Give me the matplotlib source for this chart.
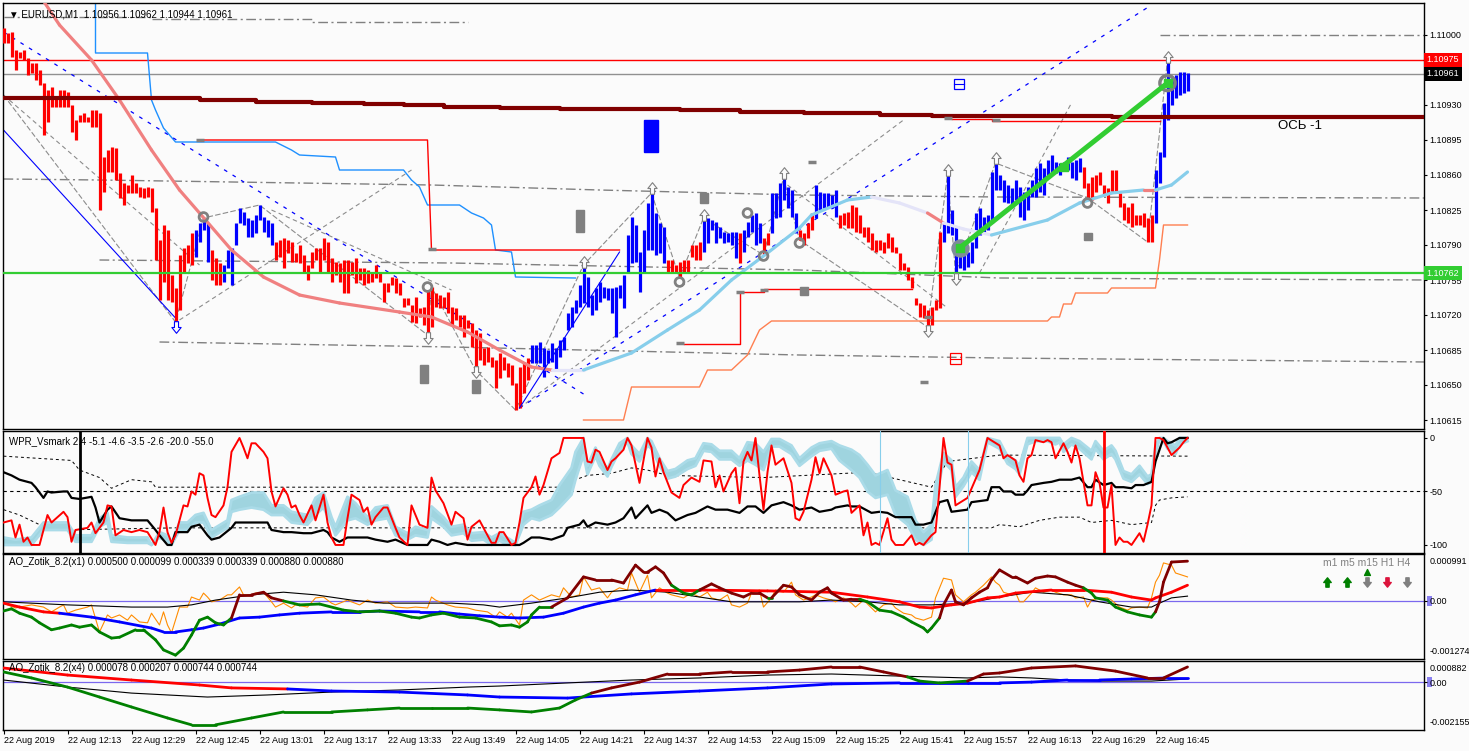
import numpy as np
import matplotlib
matplotlib.use("Agg")
import matplotlib.pyplot as plt
import matplotlib.transforms as mtransforms
from matplotlib.collections import LineCollection
from matplotlib.patches import Rectangle
from matplotlib.path import Path

plt.rcParams['font.family'] = ['Liberation Sans', 'DejaVu Sans']

# ---------------- data: EURUSD M1, 22 Aug 2019, bars from 11:57 ----------------
time_labels = ["22 Aug 2019", "22 Aug 12:13", "22 Aug 12:29", "22 Aug 12:45", "22 Aug 13:01",
               "22 Aug 13:17", "22 Aug 13:33", "22 Aug 13:49", "22 Aug 14:05", "22 Aug 14:21",
               "22 Aug 14:37", "22 Aug 14:53", "22 Aug 15:09", "22 Aug 15:25", "22 Aug 15:41",
               "22 Aug 15:57", "22 Aug 16:13", "22 Aug 16:29", "22 Aug 16:45"]
time_label_bars = [0, 16, 32, 48, 64, 80, 96, 112, 128, 144, 160, 176, 192, 208, 224, 240, 256, 272, 288]

highs = [1.11007, 1.11002, 1.11003, 1.10985, 1.10983, 1.10985, 1.10977, 1.10972, 1.10972, 1.10965,
         1.10952, 1.10945, 1.10948, 1.10938, 1.10945, 1.10945, 1.10943, 1.10930, 1.10915, 1.10920,
         1.10922, 1.10918, 1.10925, 1.10925, 1.10922, 1.10878, 1.10885, 1.10888, 1.10887, 1.10862,
         1.10852, 1.10850, 1.10860, 1.10852, 1.10848, 1.10847, 1.10848, 1.10847, 1.10827, 1.10795,
         1.10810, 1.10805, 1.10760, 1.10747, 1.10780, 1.10787, 1.10790, 1.10802, 1.10805, 1.10812,
         1.10817, 1.10812, 1.10785, 1.10777, 1.10772, 1.10770, 1.10785, 1.10787, 1.10812, 1.10827,
         1.10823, 1.10817, 1.10815, 1.10820, 1.10830, 1.10818, 1.10815, 1.10812, 1.10793, 1.10795,
         1.10797, 1.10795, 1.10793, 1.10782, 1.10790, 1.10780, 1.10770, 1.10783, 1.10787, 1.10787,
         1.10797, 1.10793, 1.10777, 1.10773, 1.10772, 1.10775, 1.10775, 1.10773, 1.10777, 1.10767,
         1.10767, 1.10765, 1.10763, 1.10770, 1.10763, 1.10752, 1.10752, 1.10758, 1.10757, 1.10752,
         1.10737, 1.10737, 1.10730, 1.10738, 1.10727, 1.10728, 1.10745, 1.10748, 1.10742, 1.10740,
         1.10738, 1.10743, 1.10728, 1.10727, 1.10720, 1.10720, 1.10715, 1.10712, 1.10705, 1.10702,
         1.10687, 1.10688, 1.10678, 1.10675, 1.10682, 1.10678, 1.10672, 1.10670, 1.10652, 1.10668,
         1.10673, 1.10677, 1.10690, 1.10690, 1.10693, 1.10687, 1.10685, 1.10692, 1.10687, 1.10695,
         1.10698, 1.10722, 1.10728, 1.10735, 1.10750, 1.10770, 1.10758, 1.10740, 1.10747, 1.10753,
         1.10748, 1.10747, 1.10747, 1.10748, 1.10750, 1.10760, 1.10800, 1.10818, 1.10810, 1.10783,
         1.10805, 1.10832, 1.10842, 1.10822, 1.10812, 1.10808, 1.10775, 1.10775, 1.10770, 1.10773,
         1.10775, 1.10775, 1.10790, 1.10790, 1.10793, 1.10817, 1.10817, 1.10815, 1.10813, 1.10808,
         1.10803, 1.10802, 1.10803, 1.10803, 1.10802, 1.10805, 1.10813, 1.10820, 1.10822, 1.10812,
         1.10797, 1.10802, 1.10842, 1.10842, 1.10852, 1.10857, 1.10848, 1.10845, 1.10822, 1.10805,
         1.10802, 1.10812, 1.10822, 1.10850, 1.10843, 1.10842, 1.10842, 1.10840, 1.10845, 1.10820,
         1.10822, 1.10823, 1.10830, 1.10828, 1.10820, 1.10808, 1.10808, 1.10802, 1.10795, 1.10795,
         1.10793, 1.10802, 1.10798, 1.10788, 1.10782, 1.10772, 1.10768, 1.10758, 1.10737, 1.10732,
         1.10730, 1.10725, 1.10728, 1.10735, 1.10803, 1.10813, 1.10860, 1.10825, 1.10808, 1.10787,
         1.10785, 1.10783, 1.10793, 1.10822, 1.10827, 1.10818, 1.10820, 1.10863, 1.10872, 1.10860,
         1.10855, 1.10850, 1.10847, 1.10855, 1.10848, 1.10843, 1.10848, 1.10855, 1.10867, 1.10872,
         1.10867, 1.10875, 1.10880, 1.10873, 1.10872, 1.10873, 1.10878, 1.10873, 1.10875, 1.10877,
         1.10868, 1.10852, 1.10858, 1.10860, 1.10863, 1.10850, 1.10847, 1.10865, 1.10865, 1.10842,
         1.10832, 1.10828, 1.10832, 1.10820, 1.10820, 1.10822, 1.10817, 1.10820, 1.10865, 1.10883,
         1.10932, 1.10975, 1.10957, 1.10960, 1.10963, 1.10963, 1.10962]

lows = [1.10992, 1.10992, 1.10978, 1.10965, 1.10977, 1.10975, 1.10960, 1.10962, 1.10955, 1.10950,
        1.10900, 1.10913, 1.10928, 1.10928, 1.10928, 1.10928, 1.10928, 1.10903, 1.10895, 1.10913,
        1.10913, 1.10913, 1.10908, 1.10908, 1.10825, 1.10843, 1.10863, 1.10863, 1.10855, 1.10837,
        1.10830, 1.10842, 1.10842, 1.10842, 1.10838, 1.10837, 1.10838, 1.10823, 1.10775, 1.10735,
        1.10753, 1.10735, 1.10733, 1.10713, 1.10725, 1.10763, 1.10772, 1.10770, 1.10778, 1.10793,
        1.10805, 1.10773, 1.10755, 1.10750, 1.10750, 1.10753, 1.10767, 1.10750, 1.10790, 1.10812,
        1.10810, 1.10798, 1.10798, 1.10802, 1.10815, 1.10803, 1.10798, 1.10790, 1.10775, 1.10778,
        1.10767, 1.10782, 1.10773, 1.10773, 1.10772, 1.10763, 1.10755, 1.10767, 1.10775, 1.10762,
        1.10775, 1.10762, 1.10753, 1.10760, 1.10753, 1.10742, 1.10742, 1.10760, 1.10752, 1.10755,
        1.10750, 1.10752, 1.10753, 1.10757, 1.10753, 1.10733, 1.10743, 1.10750, 1.10742, 1.10740,
        1.10728, 1.10730, 1.10713, 1.10712, 1.10718, 1.10710, 1.10700, 1.10708, 1.10728, 1.10727,
        1.10727, 1.10722, 1.10710, 1.10715, 1.10708, 1.10698, 1.10707, 1.10688, 1.10665, 1.10675,
        1.10670, 1.10673, 1.10668, 1.10647, 1.10657, 1.10665, 1.10658, 1.10650, 1.10625, 1.10627,
        1.10642, 1.10655, 1.10672, 1.10672, 1.10672, 1.10658, 1.10672, 1.10673, 1.10665, 1.10678,
        1.10685, 1.10705, 1.10708, 1.10722, 1.10728, 1.10732, 1.10728, 1.10720, 1.10725, 1.10733,
        1.10737, 1.10735, 1.10722, 1.10698, 1.10737, 1.10727, 1.10762, 1.10772, 1.10773, 1.10743,
        1.10762, 1.10785, 1.10785, 1.10780, 1.10782, 1.10772, 1.10762, 1.10762, 1.10762, 1.10757,
        1.10762, 1.10763, 1.10778, 1.10775, 1.10775, 1.10783, 1.10792, 1.10805, 1.10792, 1.10797,
        1.10792, 1.10793, 1.10790, 1.10777, 1.10772, 1.10783, 1.10798, 1.10803, 1.10790, 1.10792,
        1.10780, 1.10790, 1.10802, 1.10817, 1.10818, 1.10835, 1.10827, 1.10818, 1.10802, 1.10795,
        1.10790, 1.10797, 1.10805, 1.10817, 1.10825, 1.10827, 1.10828, 1.10827, 1.10818, 1.10807,
        1.10810, 1.10807, 1.10807, 1.10803, 1.10802, 1.10798, 1.10793, 1.10785, 1.10783, 1.10785,
        1.10782, 1.10787, 1.10783, 1.10782, 1.10765, 1.10765, 1.10755, 1.10747, 1.10730, 1.10718,
        1.10717, 1.10708, 1.10710, 1.10725, 1.10727, 1.10793, 1.10802, 1.10800, 1.10762, 1.10767,
        1.10765, 1.10768, 1.10772, 1.10787, 1.10800, 1.10803, 1.10805, 1.10812, 1.10845, 1.10845,
        1.10833, 1.10832, 1.10830, 1.10835, 1.10818, 1.10815, 1.10825, 1.10838, 1.10838, 1.10843,
        1.10840, 1.10857, 1.10860, 1.10862, 1.10860, 1.10867, 1.10865, 1.10857, 1.10855, 1.10863,
        1.10847, 1.10837, 1.10835, 1.10843, 1.10850, 1.10840, 1.10832, 1.10842, 1.10843, 1.10828,
        1.10815, 1.10812, 1.10808, 1.10810, 1.10810, 1.10808, 1.10793, 1.10793, 1.10812, 1.10852,
        1.10878, 1.10915, 1.10930, 1.10937, 1.10940, 1.10942, 1.10944]

# bar index ranges painted blue (trend up); all others red
up_runs = [(48, 51), (55, 67), (132, 165), (175, 183), (185, 189), (192, 198), (203, 208), (235, 269), (288, 296)]

# main chart indicator lines: (bar, price)
axis_line = [(-1, 1.109370), (49, 1.109350), (63, 1.109333), (77, 1.109323), (90, 1.109310), (100, 1.109300),
             (110, 1.109283), (124, 1.109275), (139, 1.109265), (154, 1.109255), (169, 1.109245),
             (184, 1.109235), (194, 1.109230), (200, 1.109215), (219, 1.109200), (232, 1.109190),
             (247, 1.109185), (277, 1.109177), (356, 1.109177)]
ma_line = [(9, 1.11040), (14, 1.11010), (22, 1.10975), (29, 1.10935), (37, 1.10885), (44, 1.10845),
           (49, 1.10822), (57, 1.10785), (65, 1.10758), (74, 1.10740), (84, 1.10732), (99, 1.10723),
           (107, 1.10718), (116, 1.10703), (124, 1.10685), (132, 1.10668), (137, 1.10665), (145, 1.10665),
           (157, 1.10682), (166, 1.10705), (174, 1.10725), (182, 1.10755), (191, 1.10782), (199, 1.10807),
           (202, 1.10820), (211, 1.10835), (217, 1.10838), (224, 1.10832), (231, 1.10822), (235, 1.10812),
           (240, 1.10806), (247, 1.10800), (261, 1.10815), (269, 1.10832), (277, 1.10842), (285, 1.10845),
           (288, 1.10845), (292, 1.10850), (296, 1.10863)]
ma_spans = [(0, 137, '#f08080'), (137, 145, '#e4e4f8'), (145, 217, '#87ceeb'), (217, 231, '#e4e4f8'),
            (231, 235, '#f08080'), (235, 247, '#e4e4f8'), (247, 285, '#87ceeb'), (285, 288, '#f08080'),
            (288, 296, '#87ceeb')]
blue_stop = [(23, 1.11040), (23, 1.10982), (36, 1.10982), (37, 1.10935), (38, 1.10925), (40, 1.10907),
             (43, 1.10893), (68, 1.10893), (72, 1.10885), (74, 1.10880), (83, 1.10878), (84, 1.10865),
             (100, 1.10865), (102, 1.10855), (104, 1.10848), (106, 1.10830), (114, 1.10830), (117, 1.10822),
             (120, 1.10817), (122, 1.10810), (123, 1.10785), (127, 1.10783), (128, 1.10758), (143, 1.10757)]
coral_stop = [(145, 1.10615), (155, 1.10615), (157, 1.10648), (174, 1.10648), (176, 1.10665), (182, 1.10665),
              (186, 1.10680), (189, 1.10705), (192, 1.10714), (261, 1.10714), (262, 1.10718), (264, 1.10718),
              (265, 1.10731), (267, 1.10731), (268, 1.10742), (276, 1.10742), (277, 1.10747), (288, 1.10747),
              (289, 1.10775), (290, 1.10810), (296, 1.10810)]
red_levels = [[(49, 1.10895), (106, 1.10895), (107, 1.10785), (154, 1.10785)],
              [(170, 1.10691), (184, 1.10691), (184, 1.10743), (190, 1.10743), (190, 1.10746), (227, 1.10746)],
              [(237, 1.10916), (247, 1.10916), (247, 1.10914), (289, 1.10914)]]
gray_levels = [[(0, 1.11018), (37, 1.11018), (37, 1.11016), (77, 1.11016), (77, 1.11013), (116, 1.11013)],
               [(0, 1.10856), (24, 1.10855), (107, 1.10850), (149, 1.10845), (199, 1.10840), (249, 1.10838), (356, 1.10837)],
               [(24, 1.10775), (112, 1.10772), (199, 1.10765), (249, 1.10757), (356, 1.10755)],
               [(39, 1.10693), (112, 1.10688), (199, 1.10680), (249, 1.10677), (356, 1.10673)],
               [(289, 1.11000), (356, 1.11000)]]
zigzag = [(0, 1.10940), (43, 1.10713), (50, 1.10817), (64, 1.10830), (106, 1.10700), (107, 1.10748),
          (118, 1.10665), (128, 1.10625), (145, 1.10770), (162, 1.10842), (169, 1.10757), (175, 1.10817),
          (190, 1.10780), (195, 1.10857), (199, 1.10795), (231, 1.10708), (236, 1.10860), (238, 1.10762),
          (248, 1.10872), (271, 1.10837), (286, 1.10793), (291, 1.10975)]
gray_diag = [[(0, 1.10940), (49, 1.10770)], [(44, 1.10715), (102, 1.10865)], [(67, 1.10825), (112, 1.10745)],
             [(129, 1.10627), (225, 1.10915)], [(244, 1.10762), (267, 1.10932)], [(196, 1.10850), (236, 1.10727)]]
blue_channel = [(0, 1.10905), (43, 1.10717)]
blue_dash_down = [(0, 1.11003), (145, 1.10641)]
blue_dash_up = [(129, 1.10627), (287, 1.11030)]
blue_leg = [(129, 1.10627), (154, 1.10783)]
green_trend = [(239, 1.10787), (265, 1.10868), (291, 1.10952)]
up_marks = [(145, 1.10773), (162, 1.10847), (175, 1.10820), (195, 1.10862), (236, 1.10865), (248, 1.10877), (291, 1.10978)]
down_marks = [(106, 1.10697), (118, 1.10663), (231, 1.10704), (238, 1.10756)]
ring_marks = [(50, 1.10818), (106, 1.10748), (169, 1.10753), (186, 1.10822), (190, 1.10779), (199, 1.10792), (271, 1.10832)]
gray_blocks = [(143, 145, 1.10803, 1.10825), (104, 106, 1.10652, 1.10670), (117, 119, 1.10642, 1.10655),
               (174, 176, 1.10832, 1.10842), (199, 201, 1.10740, 1.10748), (270, 272, 1.10795, 1.10802)]
gray_ticks = [(49, 1.10895), (107, 1.10786), (169, 1.10692), (184, 1.10743), (190, 1.10745), (202, 1.10873),
              (231, 1.10718), (230, 1.10653), (236, 1.10917), (248, 1.10915)]
price_ticks = [1.11000, 1.10965, 1.10930, 1.10895, 1.10860, 1.10825, 1.10790, 1.10755, 1.10720, 1.10685, 1.10650, 1.10615]
high_mark, bid, level_green = 1.10975, 1.10961, 1.10762

# WPR panel: (bar, value)
wpr_fast = [(0, -79), (2, -77), (3, -93), (4, -81), (5, -97), (6, -93), (7, -100), (9, -100), (11, -72), (12, -79),
            (15, -69), (16, -74), (17, -97), (18, -86), (21, -84), (22, -79), (23, -89), (25, -79), (26, -63), (27, -64),
            (28, -91), (30, -86), (32, -88), (34, -86), (36, -88), (38, -100), (39, -88), (40, -65), (41, -88), (42, -98),
            (43, -91), (45, -63), (46, -64), (47, -50), (48, -53), (49, -33), (50, -35), (51, -56), (52, -72), (53, -74),
            (55, -63), (56, -46), (57, -13), (59, 0), (60, -9), (61, -19), (62, -5), (63, -5), (65, -13), (66, -19),
            (67, -50), (68, -64), (70, -47), (71, -53), (72, -65), (73, -63), (74, -72), (75, -79), (77, -63), (78, -77),
            (80, -53), (81, -79), (82, -93), (83, -100), (85, -100), (86, -75), (87, -53), (89, -58), (90, -69), (91, -65),
            (92, -81), (93, -74), (95, -65), (96, -65), (98, -84), (99, -93), (101, -100), (102, -63), (104, -81), (106, -84),
            (107, -37), (108, -49), (110, -61), (112, -81), (113, -69), (115, -75), (116, -95), (117, -83), (119, -77), (120, -84),
            (122, -98), (123, -98), (124, -88), (125, -88), (127, -100), (128, -98), (129, -79), (130, -56), (132, -46), (133, -36),
            (134, -53), (135, -44), (137, -19), (139, -14), (140, 0), (142, 0), (143, 0), (145, 0), (146, -22), (147, -23),
            (148, -11), (149, -13), (151, -30), (152, -22), (153, -19), (155, -11), (156, 0), (157, -7), (159, -42), (161, 0),
            (162, -9), (163, -36), (164, -19), (165, -32), (167, -51), (169, -56), (170, -44), (172, -37), (174, -41), (175, -21),
            (177, -22), (178, -46), (179, -35), (180, -50), (182, -33), (183, -28), (184, -61), (185, -22), (186, -13), (187, -21),
            (188, 0), (189, -35), (190, -67), (191, -32), (192, -7), (193, -25), (195, -19), (197, -42), (198, -75), (199, -77),
            (200, -69), (202, -39), (203, -18), (204, -33), (205, -19), (207, -35), (208, -53), (210, -50), (211, -49), (212, -70),
            (214, -63), (215, -91), (216, -79), (217, -100), (218, -98), (219, -100), (221, -75), (222, -95), (223, -100), (224, -100),
            (225, -100), (227, -91), (228, -100), (229, -98), (230, -100), (232, -91), (233, -88), (234, -47), (235, 0), (236, -23),
            (237, -25), (238, -63), (241, -56), (244, -30), (246, 0), (249, -7), (250, -19), (251, -16), (253, -21), (254, -35),
            (255, -41), (256, -19), (257, -16), (258, -2), (260, -4), (261, -2), (262, -4), (263, -19), (265, -5), (266, -13),
            (267, -23), (268, -7), (269, -19), (271, -63), (272, -63), (273, -32), (274, -42), (275, -65), (276, -65), (277, -44),
            (278, -100), (279, -93), (280, -97), (281, -97), (282, -100), (284, -89), (285, -97), (286, -81), (287, -63), (288, 0),
            (289, 0), (290, -2), (292, -16), (294, -9), (295, -4), (296, 0)]
wpr_slow = [(0, -32), (2, -35), (4, -39), (7, -42), (8, -46), (10, -56), (11, -50), (12, -51), (15, -50), (16, -50),
            (17, -56), (19, -57), (22, -55), (23, -65), (24, -79), (26, -67), (27, -64), (29, -75), (32, -77), (36, -77),
            (38, -86), (39, -91), (41, -100), (42, -100), (43, -88), (46, -88), (47, -83), (49, -81), (51, -91), (52, -95),
            (54, -93), (57, -84), (58, -79), (61, -79), (62, -79), (66, -79), (67, -86), (70, -88), (72, -88), (75, -89),
            (77, -89), (80, -86), (81, -88), (82, -93), (84, -97), (86, -93), (88, -93), (91, -93), (93, -95), (96, -97),
            (98, -95), (101, -100), (103, -100), (106, -100), (107, -95), (109, -97), (111, -100), (113, -98), (116, -100), (118, -100),
            (121, -100), (124, -100), (127, -100), (129, -100), (130, -98), (132, -93), (134, -93), (137, -95), (140, -91), (141, -84),
            (144, -81), (145, -77), (146, -83), (148, -79), (151, -81), (153, -79), (155, -75), (157, -65), (158, -75), (161, -63),
            (162, -70), (164, -67), (166, -70), (168, -77), (171, -72), (173, -70), (176, -64), (178, -67), (181, -67), (184, -70),
            (186, -64), (188, -64), (190, -70), (192, -63), (195, -60), (197, -63), (199, -67), (202, -65), (204, -69), (207, -67),
            (208, -65), (211, -63), (212, -64), (214, -64), (217, -70), (219, -69), (221, -70), (223, -74), (227, -74), (228, -81),
            (230, -81), (232, -79), (234, -60), (236, -58), (237, -69), (241, -67), (242, -60), (246, -58), (247, -46), (249, -46),
            (250, -50), (252, -50), (253, -53), (255, -53), (256, -49), (257, -44), (260, -42), (262, -41), (264, -39), (267, -39),
            (269, -37), (271, -46), (272, -46), (273, -39), (275, -44), (277, -42), (278, -46), (280, -46), (282, -47), (283, -44),
            (285, -44), (287, -41), (288, -22), (290, 0), (291, -5), (292, -4), (294, 0), (296, 0)]
# smoothed WPR band: (bar, edge a, edge b)
wpr_band = [(0, -93, -100), (3, -95, -100), (7, -93, -100), (10, -79, -86), (16, -79, -86), (18, -91, -97), (22, -91, -97),
            (24, -75, -83), (26, -70, -79), (27, -91, -97), (31, -93, -98), (36, -93, -98), (37, -100, -100), (39, -88, -93),
            (41, -91, -97), (42, -98, -100), (44, -79, -86), (46, -79, -86), (48, -72, -79), (50, -70, -79), (52, -86, -93),
            (56, -77, -84), (57, -58, -69), (59, -55, -67), (62, -51, -65), (65, -51, -67), (67, -63, -72), (70, -63, -72),
            (72, -69, -79), (76, -72, -81), (78, -56, -72), (80, -51, -65), (82, -74, -81), (83, -83, -91), (86, -55, -77),
            (88, -61, -75), (91, -74, -81), (93, -65, -77), (96, -63, -75), (98, -83, -91), (101, -89, -95), (103, -83, -91),
            (106, -86, -93), (107, -64, -75), (110, -74, -83), (112, -83, -91), (115, -81, -89), (117, -89, -96), (120, -88, -95),
            (122, -93, -100), (124, -89, -96), (125, -91, -98), (128, -98, -100), (130, -69, -81), (132, -67, -75), (134, -63, -77),
            (137, -58, -72), (139, -44, -65), (142, -28, -53), (143, -13, -39), (145, 0, -16), (146, -26, -34), (148, -9, -17),
            (149, -19, -26), (151, -29, -36), (152, -20, -27), (154, -5, -12), (156, 0, -4), (157, -7, -15), (159, -15, -22),
            (161, 0, -7), (162, -3, -10), (164, -19, -26), (166, -31, -38), (168, -29, -36), (171, -21, -29), (173, -19, -26),
            (175, -5, -12), (177, -6, -13), (179, -12, -20), (182, -12, -20), (184, -19, -26), (186, -4, -21), (188, -5, -25),
            (190, -13, -30), (192, -1, -8), (194, -1, -8), (197, -7, -15), (199, -19, -26), (202, -9, -17), (204, -5, -12),
            (207, -3, -10), (209, -7, -21), (212, -11, -30), (214, -16, -37), (216, -25, -50), (218, -35, -56), (221, -30, -53),
            (223, -49, -72), (226, -55, -81), (228, -77, -95), (230, -88, -100), (232, -81, -95), (233, -44, -58), (235, -14, -22),
            (237, -21, -30), (238, -46, -55), (240, -37, -45), (242, -22, -32), (244, -30, -39), (246, 0, -4), (249, -3, -10),
            (251, -17, -24), (253, -21, -29), (254, -26, -34), (256, 0, -6), (258, 0, -3), (261, 0, -3), (263, 0, -6),
            (264, 0, -4), (265, -6, -13), (267, 0, -6), (269, -3, -10), (272, -12, -20), (273, -3, -10), (275, -12, -20),
            (277, -7, -15), (278, -12, -20), (280, -31, -38), (282, -34, -41), (284, -26, -34), (286, -36, -43), (287, -34, -41),
            (288, -7, -15), (289, 0, -1), (290, 0, -3), (291, -3, -10), (293, -7, -15), (294, 0, -6), (296, 0, -3)]
wpr_upper = [(0, -17), (17, -21), (19, -30), (24, -37), (27, -47), (32, -39), (37, -41), (38, -46), (142, -46), (143, -39),
             (146, -35), (152, -33), (157, -28), (161, -30), (166, -35), (190, -37), (216, -32), (232, -46), (236, -22),
             (249, -16), (296, -17)]
wpr_lower = [(0, -67), (4, -72), (9, -81), (14, -86), (43, -84), (247, -84), (249, -81), (254, -83), (259, -77),
             (264, -74), (269, -74), (272, -79), (277, -77), (282, -81), (287, -79), (288, -63), (289, -58), (292, -56), (296, -55)]
wpr_vlines = [(19, 'black', 2.0), (275, 'red', 2.0), (219, '#87ceeb', 0.8), (241, '#87ceeb', 0.8)]

# AO_Zotik panels, values in points (1e-5)
ao1_slow = [(0, -6), (4, -15), (10, -26), (14, -29), (22, -38), (29, -49), (37, -63), (40, -72), (43, -72), (47, -67),
            (50, -63), (54, -54), (59, -40), (64, -38), (69, -33), (74, -29), (82, -26), (89, -26), (94, -24), (104, -26),
            (109, -26), (114, -31), (119, -35), (124, -38), (129, -40), (135, -38), (140, -29), (145, -15), (149, -6), (153, 1),
            (158, 13), (163, 24), (174, 24), (191, 22), (207, 19), (216, 8), (224, -3), (229, -15), (232, -17), (237, -10),
            (241, -6), (246, 6), (249, 8), (253, 17), (262, 24), (270, 24), (277, 19), (282, 8), (287, 1), (288, 6),
            (292, 19), (296, 35)]
ao1_fast = [(0, -24), (2, -19), (4, -29), (7, -38), (9, -51), (12, -67), (14, -63), (17, -56), (19, -61), (22, -56),
            (24, -72), (27, -86), (29, -84), (33, -67), (35, -67), (38, -90), (40, -113), (43, -125), (45, -109), (47, -79),
            (49, -45), (51, -38), (53, -51), (55, -56), (57, -40), (59, 13), (62, 13), (65, 19), (67, 6), (70, -1),
            (74, -10), (79, -8), (85, -22), (89, -26), (94, -24), (98, -29), (102, -38), (104, -40), (107, -33), (110, -29),
            (114, -38), (118, -40), (122, -49), (124, -58), (127, -56), (129, -61), (131, -49), (132, -33), (134, -15), (137, -15),
            (141, 6), (145, 54), (148, 47), (152, 47), (155, 40), (158, 81), (160, 65), (161, 65), (163, 77), (165, 63),
            (167, 35), (170, 17), (172, 13), (174, 24), (177, 38), (179, 29), (182, 17), (185, 8), (187, 17), (189, 17),
            (191, 6), (192, 6), (195, 35), (197, 31), (199, 13), (202, 1), (204, 19), (206, 29), (207, 17), (210, 1),
            (212, 3), (214, 3), (216, -3), (219, -22), (222, -26), (225, -38), (227, -49), (230, -63), (231, -72), (232, -63),
            (234, -40), (235, -10), (237, 24), (238, -3), (240, -10), (242, 6), (244, 19), (246, 29), (247, 47), (249, 70),
            (252, 54), (253, 54), (256, 40), (258, 51), (261, 56), (263, 54), (266, 42), (268, 35), (270, 29), (272, 17),
            (273, 6), (276, 1), (278, -15), (281, -26), (284, -33), (287, -38), (288, -26), (289, -3), (290, 42), (292, 88),
            (296, 90)]
ao1_raw = [(0, -6), (3, -17), (7, -10), (10, -15), (12, -26), (14, -15), (15, -10), (16, -29), (18, -22), (21, -15),
           (22, -10), (24, -72), (26, -33), (27, -40), (29, -33), (31, -45), (32, -33), (34, -49), (36, -51), (37, -29),
           (39, -56), (40, -26), (41, -56), (42, -74), (44, -15), (46, -15), (47, 8), (49, 1), (50, 17), (51, 8),
           (52, -3), (54, 1), (56, 13), (57, 13), (59, 31), (60, 13), (62, 13), (63, 17), (65, 19), (67, -3),
           (68, -15), (70, -6), (72, -17), (73, -10), (76, -15), (78, 6), (80, 8), (82, -6), (83, -10), (86, 1),
           (87, -3), (89, -10), (91, 1), (93, -6), (96, -3), (98, -15), (101, -17), (103, -15), (106, -17), (107, 8),
           (108, 1), (111, -10), (113, -15), (116, -17), (118, -22), (121, -26), (123, -38), (124, -26), (126, -38), (127, -29),
           (129, -56), (130, 1), (132, 13), (134, 1), (137, 13), (139, 8), (140, 29), (142, 8), (144, 13), (145, 54),
           (147, 24), (149, 29), (151, 6), (152, 19), (154, 29), (156, 24), (157, 63), (159, 19), (161, 58), (162, 6),
           (164, 29), (166, 17), (167, 13), (170, 6), (172, 17), (174, 8), (176, 19), (177, 6), (179, 1), (181, 13),
           (182, -10), (184, -15), (186, -6), (187, 17), (189, 24), (190, -15), (192, 6), (193, 24), (195, 19), (197, 42),
           (198, 13), (200, 1), (202, 8), (203, 13), (205, 6), (207, 1), (208, -3), (210, 6), (212, -6), (213, -15),
           (215, 1), (217, -17), (218, -26), (220, -10), (222, -6), (223, -17), (225, -29), (227, -33), (228, -40), (230, -45),
           (232, -38), (233, 6), (235, 51), (237, 47), (238, 13), (240, -3), (242, 13), (243, 19), (245, 35), (247, 54),
           (248, 42), (249, 35), (250, 19), (252, 13), (253, 19), (254, -3), (255, -3), (257, 17), (258, 29), (260, 19),
           (262, 24), (263, 19), (265, 13), (267, 13), (268, 6), (270, 8), (271, -15), (272, 1), (274, 6), (276, 6),
           (277, 1), (279, -15), (281, -22), (282, -17), (284, -15), (286, -17), (287, 6), (288, 42), (289, 58), (290, 86),
           (292, 81), (293, 63), (296, 54)]
ao1_signal = [(0, -3), (16, -10), (32, -15), (41, -15), (47, -10), (53, 1), (62, 13), (70, 19), (78, 13), (87, 1),
              (95, -6), (103, -6), (112, -6), (120, -10), (124, -15), (132, -6), (141, 6), (149, 19), (157, 24), (166, 19),
              (174, 8), (182, -3), (191, -3), (199, -3), (207, 1), (216, -3), (224, -10), (232, -10), (241, -6), (249, 8),
              (257, 19), (266, 13), (274, -3), (282, -15), (287, -15), (289, -6), (292, 6), (296, 10)]
ao1_blue_runs = [(14, 163)]
ao1_maroon_runs = [(57, 70), (137, 168), (174, 190), (193, 213), (234, 270), (288, 296)]

ao2_slow = [(0, 69), (16, 35), (32, 11), (49, -13), (57, -27), (71, -32), (82, -42), (99, -47), (116, -61), (124, -71),
            (141, -76), (157, -56), (174, -42), (191, -27), (207, -8), (224, -3), (241, -3), (249, -3), (257, 1), (266, 11),
            (274, 11), (282, 16), (291, 21), (296, 21)]
ao2_fast = [(0, 50), (7, 21), (16, -23), (24, -71), (32, -119), (41, -172), (47, -205), (53, -205), (62, -172), (70, -143),
            (82, -143), (91, -133), (99, -124), (107, -124), (116, -124), (124, -133), (132, -143), (139, -124), (143, -85), (147, -52),
            (152, -27), (159, 1), (166, 40), (174, 40), (182, 50), (191, 50), (199, 59), (207, 74), (214, 74), (220, 50),
            (226, 26), (229, 6), (234, -3), (241, 6), (245, 40), (249, 45), (257, 69), (268, 79), (278, 54), (286, 21),
            (290, 21), (296, 74)]
ao2_signal = [(0, 11), (16, -23), (32, -52), (51, -71), (66, -61), (82, -47), (99, -37), (116, -23), (124, -18), (141, -3),
              (157, 11), (174, 21), (191, 35), (207, 40), (224, 30), (241, 21), (249, 26), (257, 21), (266, 11), (274, 6),
              (287, 6), (296, 16)]
ao2_blue_runs = [(71, 296)]
ao2_maroon_runs = [(147, 226), (240, 296)]

# ---------------- figure ----------------
BG = '#fbfbfb'
W, H = 1469, 751
fig = plt.figure(figsize=(W / 100, H / 100), dpi=100, facecolor=BG)


def panel(top, bottom):
    a = fig.add_axes([3 / W, 1 - bottom / H, (1424 - 3) / W, (bottom - top) / H])
    a.set_facecolor(BG)
    a.set_xlim(-0.125, 355.125)
    for s in a.spines.values():
        s.set_linewidth(1.0)
        s.set_color('black')
    a.tick_params(axis='x', bottom=False, labelbottom=False)
    a.tick_params(axis='y', left=False, labelleft=False, right=True, labelright=True,
                  length=2.5, width=0.8, labelsize=6.5, pad=1.5, direction='out')
    return a


ax = panel(3, 429)
axw = panel(431, 553)
ax1 = panel(554, 659)
ax2 = panel(661, 730)

ax.set_ylim(1.10606, 1.11032)
axw.set_ylim(-107.5, 6.5)
ax1.set_ylim(-133.8, 106.4)
ax2.set_ylim(-229.9, 102.7)


def xy(pts):
    return [p[0] for p in pts], [p[1] for p in pts]


def span_line(a, pts, spans, default, lw, z):
    t, v = xy(pts)
    segs, cols = [], []
    for k in range(len(t) - 1):
        segs.append([(t[k], v[k]), (t[k + 1], v[k + 1])])
        m = (t[k] + t[k + 1]) / 2
        c = default
        for s in spans:
            if s[0] <= m <= s[1]:
                c = s[2]
                break
        cols.append(c)
    a.add_collection(LineCollection(segs, colors=cols, linewidths=lw, zorder=z, capstyle='round'))


def arrow_path(up=True):
    pts = [(-0.35, -1), (0.35, -1), (0.35, 0), (0.8, 0), (0, 1), (-0.8, 0), (-0.35, 0), (-0.35, -1)]
    if not up:
        pts = [(x, -y) for x, y in pts]
    return Path(pts, [Path.MOVETO] + [Path.LINETO] * 6 + [Path.CLOSEPOLY])


UP, DOWN = arrow_path(True), arrow_path(False)
dashdot = (0, (7, 2.5, 1.5, 2.5))

# ---- main chart ----
ax.set_yticks(price_ticks)
# the 1.10965 label sits under the bid box, so only its tick mark shows
ax.set_yticklabels(['' if abs(p - bid) < 0.00006 else f"{p:.5f}" for p in price_ticks])

for lv in gray_levels:
    t, v = xy(lv)
    ax.plot(t, v, color='#808080', lw=1.0, ls=dashdot, zorder=1)
for d in gray_diag:
    t, v = xy(d)
    ax.plot(t, v, color='#8c8c8c', lw=0.8, ls=(0, (4, 3)), zorder=1)
t, v = xy(zigzag)
ax.plot(t, v, color='#8c8c8c', lw=0.8, ls=(0, (5, 2)), zorder=2)

ax.axhline(high_mark, color='red', lw=1.0, zorder=1)
ax.axhline(bid, color='#909090', lw=1.0, zorder=1)
ax.axhline(level_green, color='#32cd32', lw=1.6, zorder=6)

t, v = xy(blue_stop)
ax.plot(t, v, color='#1e90ff', lw=1.0, zorder=2)
t, v = xy(coral_stop)
ax.plot(t, v, color='#ff7f50', lw=1.0, zorder=2)
for rl in red_levels:
    t, v = xy(rl)
    ax.plot(t, v, color='red', lw=1.0, zorder=2)

t, v = xy(blue_channel)
ax.plot(t, v, color='#0000ff', lw=0.8, zorder=2)
t, v = xy(blue_leg)
ax.plot(t, v, color='#0000ff', lw=0.8, zorder=5)
for ln in (blue_dash_down, blue_dash_up):
    t, v = xy(ln)
    ax.plot(t, v, color='#0000ff', lw=0.9, ls=(0, (3, 5)), zorder=2)

# bars
idx = np.arange(len(highs))
is_up = np.zeros(len(highs), bool)
for a, b in up_runs:
    is_up[a:b + 1] = True
ax.vlines(idx, lows, highs, colors=np.where(is_up, '#0000ff', '#ff0000'), lw=2.3, zorder=3)

span_line(ax, ma_line, ma_spans, '#87ceeb', 2.3, 4)
t, v = xy(axis_line)
ax.plot(t, v, color='#800000', lw=3.0, drawstyle='steps-post', zorder=5)

for i0, i1, lo, hi in gray_blocks:
    ax.add_patch(Rectangle((i0, lo), i1 - i0, hi - lo, color='#808080', zorder=5))
ax.add_patch(Rectangle((160, 1.10883), 3.7, 0.00032, color='#0000ff', zorder=5))
ax.add_patch(Rectangle((237.5, 1.10946), 2.5, 0.00010, fc='none', ec='#0000ff', lw=0.9, zorder=5))
ax.plot([237.5, 240], [1.10951, 1.10951], color='#0000ff', lw=0.8, zorder=5)
ax.add_patch(Rectangle((236.7, 1.10671), 2.7, 0.00011, fc='none', ec='red', lw=0.9, zorder=5))
ax.plot([236.7, 239.4], [1.10676, 1.10676], color='red', lw=0.8, zorder=5)
t, v = xy(gray_ticks)
ax.scatter(t, v, marker='_', s=40, color='#808080', linewidths=2.5, zorder=5)

t, v = xy(up_marks)
ax.scatter(t, v, marker=UP, s=70, facecolors=BG, edgecolors='#808080', linewidths=0.8, zorder=6)
t, v = xy(down_marks)
ax.scatter(t, v, marker=DOWN, s=70, facecolors=BG, edgecolors='#808080', linewidths=0.8, zorder=6)
ax.scatter([43], [1.10708], marker=DOWN, s=70, facecolors=BG, edgecolors='#0000ff', linewidths=0.8, zorder=6)
t, v = xy(ring_marks)
ax.scatter(t, v, marker='o', s=40, facecolors='none', edgecolors='#808080', linewidths=2.0, zorder=6)

t, v = xy(green_trend)
ax.plot([t[0], t[-1]], [v[0], v[-1]], color='#32cd32', lw=3.6, solid_capstyle='butt', zorder=7)
ax.scatter([t[0]], [v[0]], s=150, color='#7f8c9a', zorder=6)
ax.scatter([t[-1]], [v[-1]], s=120, facecolors='none', edgecolors='#808080', linewidths=2.5, zorder=6)
ax.scatter(t, v, marker='s', s=28, color='#32cd32', zorder=8)

ax.text(324, 1.10909, 'ОСЬ -1', fontsize=9.5, ha='center', va='center', color='black', zorder=8)
ax.text(0.004, 0.985, '▼ EURUSD,M1  1.10956 1.10962 1.10944 1.10961', transform=ax.transAxes,
        fontsize=7, ha='left', va='top', zorder=9)

tr = mtransforms.blended_transform_factory(ax.transAxes, ax.transData)
for val, fc in ((high_mark, '#ff0000'), (bid, '#000000'), (level_green, '#32cd32')):
    ax.text(1.0018, val, f"{val:.5f}", transform=tr, fontsize=6.5, color='white', ha='left', va='center',
            clip_on=False, zorder=10, bbox=dict(boxstyle='square,pad=0.3', fc=fc, ec='none'))

# ---- WPR panel ----
axw.set_yticks([0, -50, -100])
axw.set_yticklabels(['0', '-50', '-100'])
tb = [p[0] for p in wpr_band]
ba = [p[1] for p in wpr_band]
bb = [p[2] for p in wpr_band]
axw.fill_between(tb, ba, bb, color='#9fd4df', lw=0, zorder=2)
axw.plot(tb, ba, color='#aadbe8', lw=2.0, zorder=2)
axw.plot(tb, bb, color='#aadbe8', lw=2.0, zorder=2)
axw.axhline(-50, color='black', lw=0.8, ls=(0, (3, 3)), zorder=1)
for lv in (wpr_upper, wpr_lower):
    t, v = xy(lv)
    axw.plot(t, v, color='black', lw=0.7, ls=(0, (3, 3)), zorder=1)
for xi, c, lw in wpr_vlines:
    axw.axvline(xi, color=c, lw=lw, zorder=5)
t, v = xy(wpr_slow)
axw.plot(t, v, color='black', lw=1.6, zorder=3)
t, v = xy(wpr_fast)
axw.plot(t, v, color='#ff0000', lw=1.4, zorder=4)
axw.text(0.004, 0.96, 'WPR_Vsmark 2.4 -5.1 -4.6 -3.5 -2.6 -20.0 -55.0', transform=axw.transAxes,
         fontsize=7, ha='left', va='top', zorder=9)

# ---- AO panels ----
for a, slow, fast, raw, sig, blue_runs, mar_runs, title, top_lbl, bot_lbl in (
        (ax1, ao1_slow, ao1_fast, ao1_raw, ao1_signal, ao1_blue_runs, ao1_maroon_runs,
         'AO_Zotik_8.2(x1) 0.000500 0.000099 0.000339 0.000339 0.000880 0.000880', '0.000991', '-0.001274'),
        (ax2, ao2_slow, ao2_fast, None, ao2_signal, ao2_blue_runs, ao2_maroon_runs,
         'AO_Zotik_8.2(x4) 0.000078 0.000207 0.000744 0.000744', '0.000882', '-0.002155')):
    a.set_yticks([0])
    a.set_yticklabels(['0.00'])
    a.axhline(0, color='#7b68ee', lw=0.9, zorder=1)
    if raw is not None:
        t, v = xy(raw)
        a.plot(t, v, color='#ff8c00', lw=0.8, zorder=2)
    t, v = xy(sig)
    a.plot(t, v, color='black', lw=0.8, zorder=2)
    span_line(a, slow, [(r[0], r[1], '#0000ff') for r in blue_runs], '#ff0000', 2.0, 3)
    span_line(a, fast, [(r[0], r[1], '#800000') for r in mar_runs], '#008000', 2.0, 4)
    a.text(0.004, 0.97, title, transform=a.transAxes, fontsize=7, ha='left', va='top', zorder=9)
    hpx = a.get_position().height * H
    a.text(1.0042, 1 - 7.5 / hpx, top_lbl, transform=a.transAxes, fontsize=6.5, ha='left', va='center', clip_on=False)
    a.text(1.0042, 7.5 / hpx, bot_lbl, transform=a.transAxes, fontsize=6.5, ha='left', va='center', clip_on=False)
    ylo, yhi = a.get_ylim()
    hh = 10 / hpx * (yhi - ylo)
    a.add_patch(Rectangle((1.0022, -hh / 2), 0.0036, hh, transform=mtransforms.blended_transform_factory(a.transAxes, a.transData),
                          fc='#8a80f0', ec='none', clip_on=False, zorder=0))

# timeframe arrows block
tf_names = 'm1 m5 m15 H1 H4'
ax1.text(0.9288, 0.915, tf_names, transform=ax1.transAxes, fontsize=7.5, color='#808080', ha='left', va='center')
tf_x = [0.9317, 0.9458, 0.9599, 0.9740, 0.9881]
tf_dir = [UP, UP, DOWN, DOWN, DOWN]
tf_col = ['#008000', '#008000', '#808080', '#dc143c', '#808080']
for xx, m, c in zip(tf_x, tf_dir, tf_col):
    ax1.scatter([xx], [0.735], marker=m, s=45, color=c, transform=ax1.transAxes, clip_on=False, zorder=9)
ax1.scatter([0.9599], [0.83], marker='^', s=18, color='#008000', transform=ax1.transAxes, clip_on=False, zorder=9)

# time axis
ax2.tick_params(axis='x', bottom=True, labelbottom=True, length=3, width=0.8, labelsize=6.5, pad=1.5, direction='out')
ax2.set_xticks(time_label_bars)
ax2.set_xticklabels(time_labels)
for lb in ax2.get_xticklabels():
    lb.set_horizontalalignment('left')

fig.savefig('out.png', dpi=100, facecolor=BG)
